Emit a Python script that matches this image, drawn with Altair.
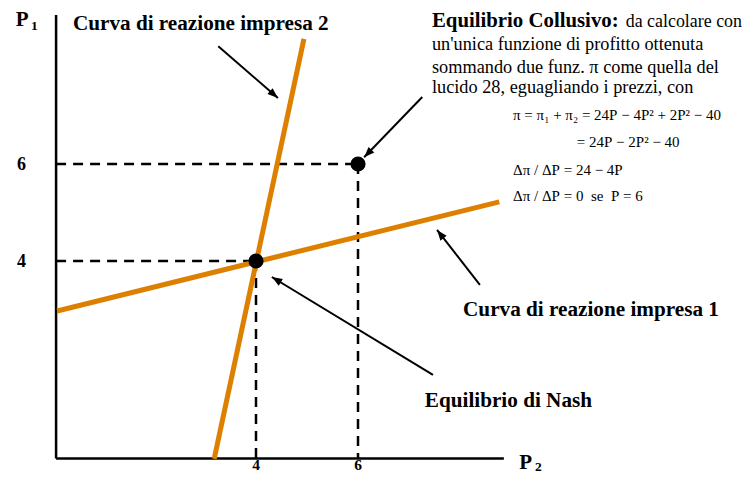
import math
import altair as alt
import pandas as pd

# ---------------- data ----------------
curve1_p2 = [0.10, 8.77]          # reaction curve firm 1 (P2, P1)
curve1_p1 = [2.97, 5.22]
curve2_p2 = [3.18, 4.94]          # reaction curve firm 2
curve2_p1 = [-0.08, 8.58]
eq_names = ["Nash", "Collusivo"]
eq_p2 = [4, 6]
eq_p1 = [4, 6]
tick_values = [4, 6]

ORIGIN_X, ORIGIN_Y = 0.08, -0.07
X_AXIS_END, Y_AXIS_END = 8.86, 9.07

ORANGE = "#DD8000"
SERIF = "Liberation Serif"
NB = "\u00a0"

W, H = 737, 466
XD = [-0.8627, 13.588]
YD = [-0.3918, 9.2165]
PX_X = W / (XD[1] - XD[0])
PX_Y = H / (YD[1] - YD[0])

xs = alt.Scale(domain=XD, nice=False, zero=False)
ys = alt.Scale(domain=YD, nice=False, zero=False)
X = lambda f="x": alt.X(f"{f}:Q", scale=xs, axis=None)
Y = lambda f="y": alt.Y(f"{f}:Q", scale=ys, axis=None)

# axes
axes_df = pd.DataFrame([
    {"x": ORIGIN_X, "y": ORIGIN_Y, "x2": X_AXIS_END, "y2": ORIGIN_Y},
    {"x": ORIGIN_X, "y": ORIGIN_Y, "x2": ORIGIN_X, "y2": Y_AXIS_END},
])
axes = alt.Chart(axes_df).mark_rule(color="black", strokeWidth=2.5).encode(
    x=X(), y=Y(), x2="x2:Q", y2="y2:Q")

# dashed guides
dash_rows = []
for a, b in zip(eq_p2, eq_p1):
    dash_rows.append({"x": ORIGIN_X, "y": b, "x2": a, "y2": b})
    dash_rows.append({"x": a, "y": b, "x2": a, "y2": ORIGIN_Y})
dashes = alt.Chart(pd.DataFrame(dash_rows)).mark_rule(
    color="black", strokeWidth=2.5, strokeDash=[10, 7]).encode(
    x=X(), y=Y(), x2="x2:Q", y2="y2:Q")

# reaction curves
curves_df = pd.DataFrame({
    "x": curve1_p2 + curve2_p2,
    "y": curve1_p1 + curve2_p1,
    "curve": ["1", "1", "2", "2"],
    "o": [0, 1, 0, 1],
})
curves = alt.Chart(curves_df).mark_line(color=ORANGE, strokeWidth=5).encode(
    x=X(), y=Y(), detail="curve:N", order="o:Q")

# equilibrium points
pts = alt.Chart(pd.DataFrame({"x": eq_p2, "y": eq_p1, "n": eq_names})).mark_circle(
    color="black", size=230, opacity=1).encode(x=X(), y=Y())

# arrows (start -> tip)
arrows = [
    (3.26, 8.43, 4.43, 7.36),
    (7.26, 7.38, 6.12, 6.14),
    (8.39, 3.51, 7.55, 4.64),
    (7.47, 1.65, 4.31, 3.67),
]
arr_rows = []
for x0, y0, x1, y1 in arrows:
    dx = (x1 - x0) * PX_X
    dy = -(y1 - y0) * PX_Y
    ang = math.degrees(math.atan2(dx, -dy)) % 360
    arr_rows.append({"x": x0, "y": y0, "x2": x1, "y2": y1, "ang": ang})
arr_df = pd.DataFrame(arr_rows)
arrow_lines = alt.Chart(arr_df).mark_rule(color="black", strokeWidth=2).encode(
    x=X(), y=Y(), x2="x2:Q", y2="y2:Q")
arrow_heads = alt.Chart(arr_df).mark_point(
    shape="M0,0L0.75,2L-0.75,2Z", filled=True, color="black", opacity=1,
    size=110, strokeWidth=0).encode(
    x=X("x2"), y=Y("y2"), angle=alt.Angle("ang:Q", scale=None))


def texts(rows, size, weight="normal", align="left", style="normal"):
    df = pd.DataFrame(rows, columns=["t", "x", "y"])
    return alt.Chart(df).mark_text(
        font=SERIF, fontSize=size, fontWeight=weight, fontStyle=style,
        align=align, baseline="alphabetic", color="black").encode(
        x=X(), y=Y(), text="t:N")


big_labels = texts([
    ("Curva di reazione impresa 2", 0.41, 8.76),
    ("Curva di reazione impresa 1", 8.06, 2.87),
    ("Equilibrio di Nash", 7.31, 0.99),
], 21.2, "bold")

coll_bold = texts([("Equilibrio Collusivo:", 7.45, 8.82)], 20.8, "bold")
coll_first = texts([("da calcolare con", 11.25, 8.82)], 17.9)
coll_reg = texts([
    ("un'unica funzione di profitto ottenuta", 7.45, 8.35),
    ("sommando due funz. π come quella del", 7.45, 7.88),
    ("lucido 28, eguagliando i prezzi, con", 7.45, 7.46),
], 18.3)
formulas = texts([
    (f"π{NB}={NB}π₁{NB}+{NB}π₂{NB}={NB}24P{NB}−{NB}4P²{NB}+{NB}2P²{NB}−{NB}40", 9.04, 6.91),
    (f"={NB}24P{NB}−{NB}2P²{NB}−{NB}40", 10.29, 6.35),
    (f"Δπ{NB}/{NB}ΔP{NB}={NB}24{NB}−{NB}4P", 9.04, 5.77),
    (f"Δπ{NB}/{NB}ΔP{NB}={NB}0{NB}{NB}se{NB}{NB}P{NB}={NB}6", 9.04, 5.24),
], 15)

yticks = texts([(str(v), -0.60, v - 0.12) for v in tick_values], 18, "bold", "center")
xticks = texts([(str(v), v, -0.315) for v in tick_values], 15.5, "bold", "center")

p_labels = texts([("P", -0.71, 8.84), ("P", 9.16, -0.29)], 21, "bold")
p_subs = texts([("1", -0.41, 8.76), ("2", 9.47, -0.32)], 13.5, "bold")

chart = alt.layer(
    axes, dashes, curves, pts, arrow_lines, arrow_heads,
    big_labels, coll_bold, coll_first, coll_reg, formulas, yticks, xticks,
    p_labels, p_subs,
).properties(
    width=W, height=H, padding=0,
    autosize=alt.AutoSizeParams(type="none"),
).configure_view(stroke=None)

chart.save("out.html", embed_options={"renderer": "svg", "actions": False})
